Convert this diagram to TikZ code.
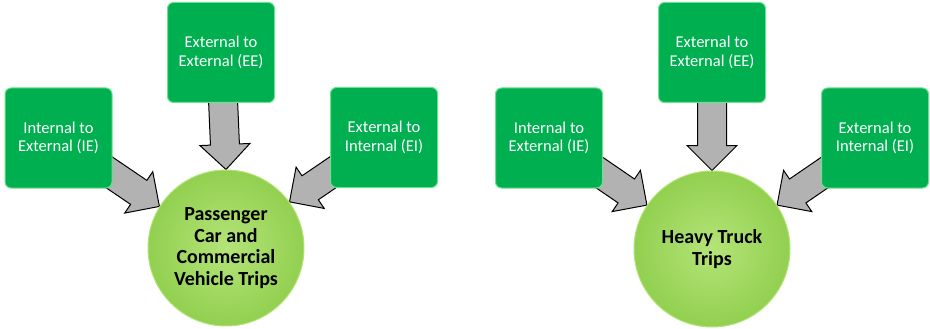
\documentclass[tikz,border=0pt]{standalone}
\usepackage{fontspec}
\setmainfont{Carlito}
\usepackage{tikz}
\usetikzlibrary{calc, backgrounds}

\definecolor{boxgreen}{RGB}{0,176,80}
\definecolor{boxedge}{RGB}{110,225,140}
\definecolor{tripgreen}{RGB}{146,208,80}
\definecolor{tripgreenlight}{RGB}{180,228,120}
\definecolor{arrowgray}{RGB}{178,178,178}

\tikzset{
  tripbox/.style={rectangle, rounded corners=6pt, fill=boxgreen, draw=boxedge,
    line width=1pt, minimum width=107pt, minimum height=100pt, text=white,
    align=center, font=\fontsize{16.5}{18.5}\selectfont},
  tripcircle/.style={circle, minimum size=156pt, inner sep=0pt,
    inner color=tripgreenlight, outer color=tripgreen, draw=tripgreenlight,
    line width=1pt, align=center, font=\bfseries\fontsize{20}{21.8}\selectfont},
  flowarrow/.style={fill=arrowgray, draw=black, line width=1pt, line join=miter,
    to path={($(\tikztostart)!14.5pt!90:(\tikztotarget)$)
      -- ($($(\tikztotarget)!25pt!(\tikztostart)$)!14.5pt!-90:(\tikztostart)$)
      -- ($($(\tikztotarget)!25pt!(\tikztostart)$)!25pt!-90:(\tikztostart)$)
      -- (\tikztotarget)
      -- ($($(\tikztotarget)!25pt!(\tikztostart)$)!25pt!90:(\tikztostart)$)
      -- ($($(\tikztotarget)!25pt!(\tikztostart)$)!14.5pt!90:(\tikztostart)$)
      -- ($(\tikztostart)!14.5pt!-90:(\tikztotarget)$) -- cycle}}
}

\begin{document}
\begin{tikzpicture}[x=1pt, y=-1pt]
    \useasboundingbox (0,0) rectangle (930,329);

    % Left group
    \node[tripbox] (ieL) at (58.5,138) {Internal to\\External (IE)};
    \node[tripbox] (eeL) at (221,52.5) {External to\\External (EE)};
    \node[tripbox] (eiL) at (384,137.5) {External to\\Internal (EI)};
    \node[tripcircle] (carL) at (226,248) {Passenger\\Car and\\Commercial\\Vehicle Trips};

    % Right group
    \node[tripbox] (ieR) at (549,138) {Internal to\\External (IE)};
    \node[tripbox] (eeR) at (712,52.5) {External to\\External (EE)};
    \node[tripbox] (eiR) at (875,138) {External to\\Internal (EI)};
    \node[tripcircle] (truckR) at (712,249) {Heavy Truck\\Trips};

    % Block arrows behind the boxes
    \begin{pgfonlayer}{background}
        \draw[flowarrow] (ieL) to (carL.148);
        \draw[flowarrow] (eeL) to (carL.north);
        \draw[flowarrow] (eiL) to (carL.36);
        \draw[flowarrow] (ieR) to (truckR.146);
        \draw[flowarrow] (eeR) to (truckR.north);
        \draw[flowarrow] (eiR) to (truckR.34);
    \end{pgfonlayer}
\end{tikzpicture}
\end{document}
